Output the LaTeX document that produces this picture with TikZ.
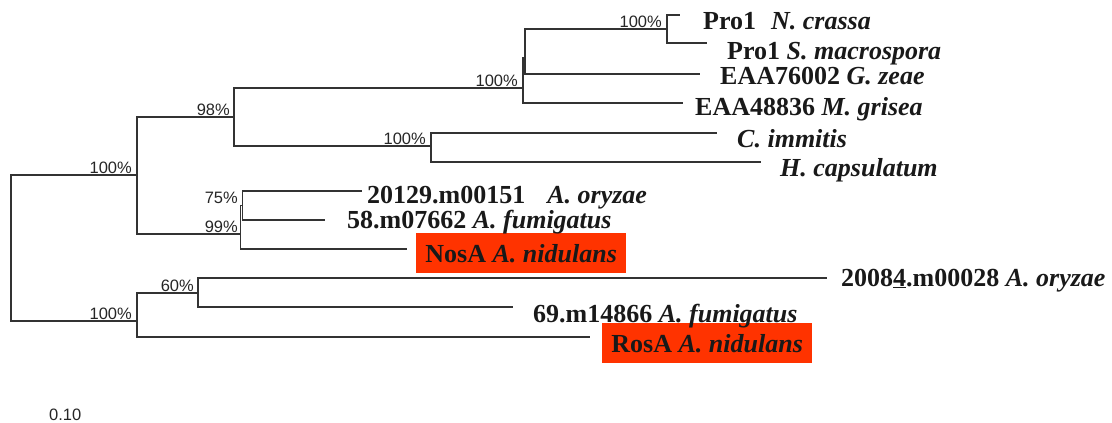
\documentclass[tikz,border=0pt]{standalone}
\usepackage{fontspec}
\setmainfont{Liberation Serif}
\newfontfamily\pctfont{Liberation Sans}
\definecolor{hl}{RGB}{255,51,0}
\definecolor{ink}{RGB}{25,25,25}
\begin{document}
\begin{tikzpicture}[x=1pt,y=-1pt,
  br/.style={draw=black!80, line width=1.2pt},
  pct/.style={font=\pctfont\fontsize{16.5}{18}\selectfont, anchor=base east, inner sep=0pt, text=black!85},
  taxon/.style={font=\bfseries\fontsize{26}{30}\selectfont, anchor=base west, inner sep=0pt, text=ink},
  hlbox/.style={fill=hl, minimum width=210pt, minimum height=40pt, anchor=north west, inner sep=0pt, font=\bfseries\fontsize{26}{30}\selectfont, text=ink}]
\useasboundingbox (0,0) rectangle (1112,423);
% internal nodes
\coordinate (r) at (11,248);
\coordinate (A) at (137,175);
\coordinate (B) at (137,321);
\coordinate (c98) at (234,117);
\coordinate (c99) at (240.5,234);
\coordinate (y523) at (523,88);
\coordinate (x525) at (525,58);
\coordinate (pro) at (667,29);
\coordinate (c431) at (431,146);
\coordinate (c75) at (242.5,205.5);
\coordinate (c60) at (198,293);
% leaf ends
\coordinate (lN) at (680,15);
\coordinate (lS) at (707,43);
\coordinate (lG) at (700,74);
\coordinate (lM) at (683,103);
\coordinate (lC) at (717,133);
\coordinate (lH) at (761,162);
\coordinate (l20129) at (362,191);
\coordinate (l58) at (325,220);
\coordinate (lNos) at (407,249);
\coordinate (l20084) at (827,278);
\coordinate (l69) at (513,307);
\coordinate (lRos) at (590,337);
% branches
\draw[br] (r) |- (A);
\draw[br] (r) |- (B);
\draw[br] (A) |- (c98);
\draw[br] (A) |- (c99);
\draw[br] (c98) |- (y523);
\draw[br] (c98) |- (c431);
\draw[br] (y523) |- (x525);
\draw[br] (y523) |- (lM);
\draw[br] (x525) |- (pro);
\draw[br] (x525) |- (lG);
\draw[br] (pro) |- (lN);
\draw[br] (pro) |- (lS);
\draw[br] (c431) |- (lC);
\draw[br] (c431) |- (lH);
\draw[br] (c99) |- (c75);
\draw[br] (c99) |- (lNos);
\draw[br] (c75) |- (l20129);
\draw[br] (c75) |- (l58);
\draw[br] (B) |- (c60);
\draw[br] (B) |- (lRos);
\draw[br] (c60) |- (l20084);
\draw[br] (c60) |- (l69);
% bootstrap values
\node[pct] (pA) at (132,173.5) {100\%};
\node[pct] (pB) at (132,319.5) {100\%};
\node[pct] (p98) at (230,115.5) {98\%};
\node[pct] (p523) at (518,86.5) {100\%};
\node[pct] (ppro) at (662,27.5) {100\%};
\node[pct] (p431) at (426,144.5) {100\%};
\node[pct] (p75) at (238,203) {75\%};
\node[pct] (p99) at (238,232) {99\%};
\node[pct] (p60) at (194,291) {60\%};
% taxa
\node[hlbox] (tNos) at (416,233) {NosA \textit{A. nidulans}};
\node[hlbox] (tRos) at (602,323) {RosA \textit{A. nidulans}};
\node[taxon] (tN) at (703,29) {Pro1\hspace{15pt}\textit{N. crassa}};
\node[taxon] (tS) at (727,59) {Pro1 \textit{S. macrospora}};
\node[taxon] (tG) at (720,84) {EAA76002 \textit{G. zeae}};
\node[taxon] (tM) at (695,115) {EAA48836 \textit{M. grisea}};
\node[taxon] (tC) at (737,147) {\textit{C. immitis}};
\node[taxon] (tH) at (780,176) {\textit{H. capsulatum}};
\node[taxon] (t20129) at (367,203) {20129.m00151\hspace{22pt}\textit{A. oryzae}};
\node[taxon] (t58) at (347,228) {58.m07662 \textit{A. fumigatus}};
\node[taxon] (t20084) at (841,286) {2008\underline{4}.m00028 \textit{A. oryzae}};
\node[taxon] (t69) at (533,322) {69.m14866 \textit{A. fumigatus}};
% scale
\node[pct, anchor=base west] (scale) at (49,420) {0.10};
\end{tikzpicture}
\end{document}
